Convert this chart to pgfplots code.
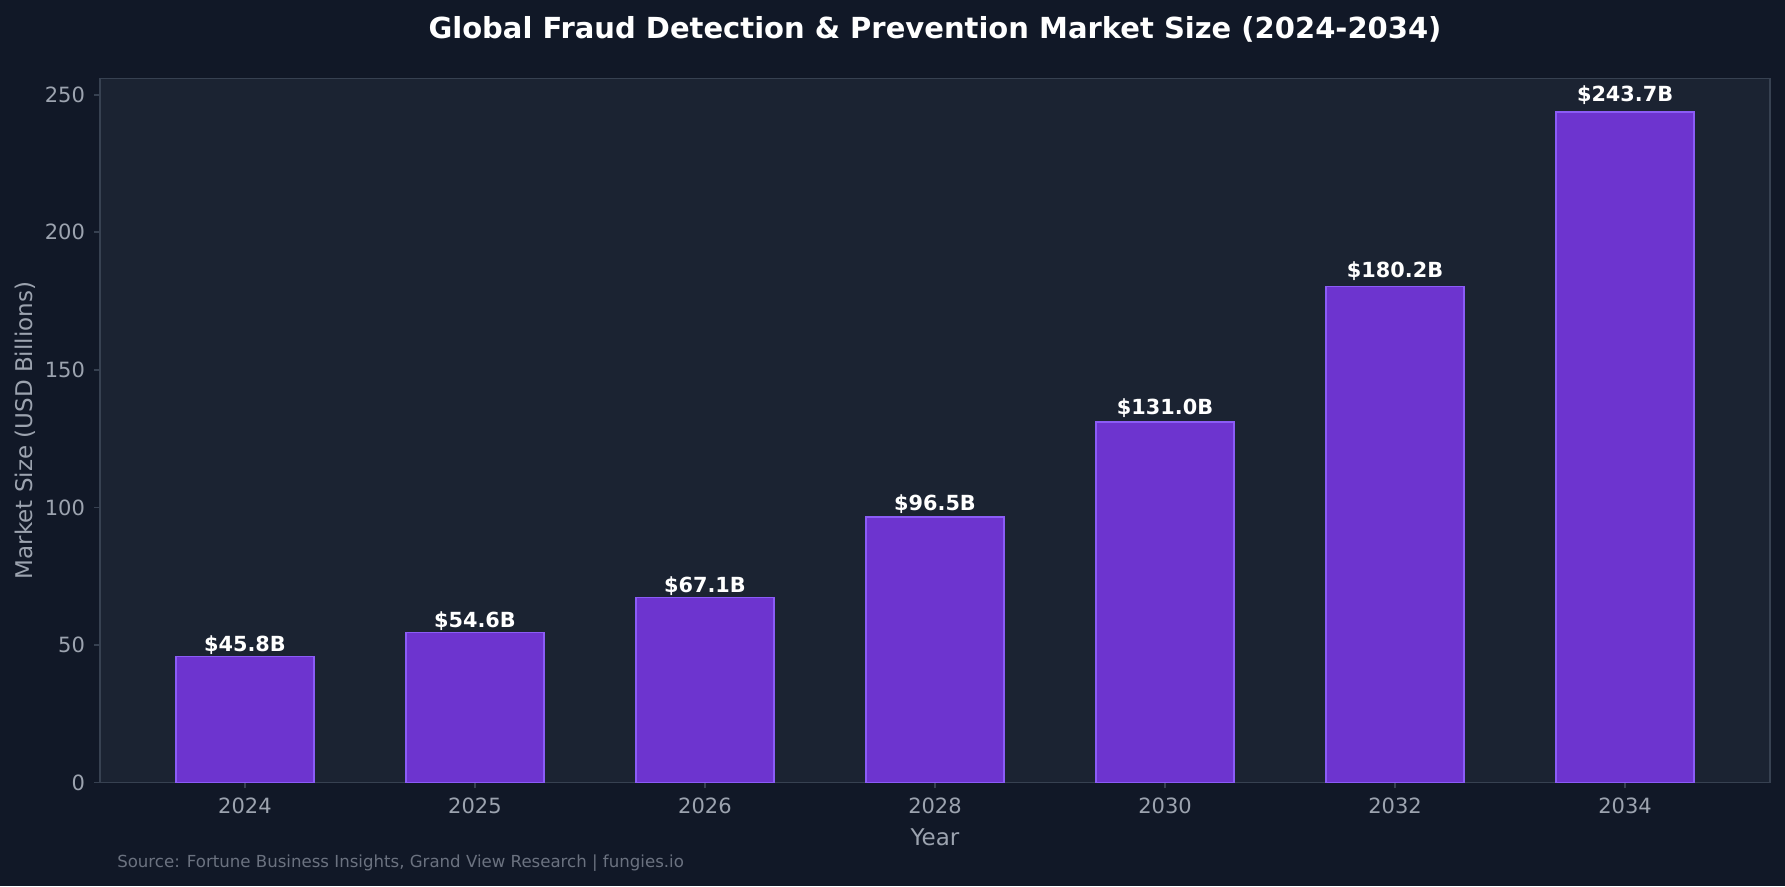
\documentclass[border=0pt]{standalone}
\usepackage{fontspec}
\setmainfont{DejaVu Sans}
\usepackage{pgfplots}
\pgfplotsset{compat=1.18}
\definecolor{figbg}{HTML}{111827}
\definecolor{axbg}{HTML}{1B2332}
\definecolor{barfill}{HTML}{6D34CF}
\definecolor{baredge}{HTML}{8B5CF6}
\definecolor{spine}{HTML}{374151}
\definecolor{ticktxt}{HTML}{9CA3AF}
\definecolor{srctxt}{HTML}{6B7280}
\begin{document}
\begin{tikzpicture}
\fill[figbg] (-50pt,-52pt) rectangle (842.5pt,391.25pt);
\useasboundingbox (-50pt,-52pt) rectangle (842.5pt,391.25pt);
\begin{axis}[
  at={(0,0)}, anchor=south west,
  scale only axis, width=835pt, height=352pt,
  xmin=-0.63, xmax=6.63, ymin=0, ymax=255.9,
  axis background/.style={fill=axbg},
  axis line style={spine, line width=0.8pt},
  ybar, bar width=0.6,
  xtick={0,1,2,3,4,5,6},
  xticklabels={2024,2025,2026,2028,2030,2032,2034},
  ytick={0,50,100,150,200,250},
  tick pos=left, tick align=outside,
  major tick length=3pt,
  every tick/.style={spine, line width=0.8pt},
  ticklabel style={font=\fontsize{10.5}{12.5}\selectfont, text=ticktxt},
  /pgf/number format/assume math mode=true,
  xticklabel style={yshift=-1pt},
  yticklabel style={xshift=-1pt},
  every axis x label/.style={at={(axis description cs:0.5,0)}, anchor=center, yshift=-27.5pt, font=\fontsize{11.5}{14}\selectfont, text=ticktxt},
  every axis y label/.style={at={(axis description cs:0,0.5)}, xshift=-37.5pt, rotate=90, anchor=center, font=\fontsize{11.5}{14}\selectfont, text=ticktxt},
  xlabel={Year}, ylabel={Market Size (USD Billions)},
  visualization depends on={rawy \as \rawy},
  nodes near coords={\$\pgfmathprintnumber[fixed,fixed zerofill,precision=1]{\rawy}B},
  every node near coord/.append style={font=\bfseries\fontsize{10.4}{12}\selectfont, text=white, yshift={(0.0144*\rawy-3.36)*1pt}},
  clip=false,
]
\addplot[fill=barfill, draw=baredge, line width=0.6pt] coordinates {
(0,45.8) (1,54.6) (2,67.1) (3,96.5) (4,131.0) (5,180.2) (6,243.7)};
\end{axis}
\node[font=\bfseries\fontsize{14.5}{17}\selectfont, text=white] at (417.5pt,376.6pt) {Global Fraud Detection \& Prevention Market Size (2024-2034)};
\node[font=\fontsize{8.3}{10}\selectfont, text=srctxt, anchor=west] at (5.1pt,-40.4pt) {Source: Fortune Business Insights, Grand View Research | fungies.io};
\end{tikzpicture}
\end{document}
